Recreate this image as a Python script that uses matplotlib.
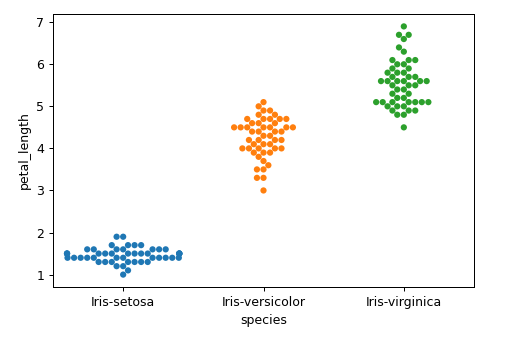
import matplotlib
matplotlib.use("Agg")
import matplotlib.pyplot as plt
import pandas as pd
import seaborn as sns

species = ["Iris-setosa", "Iris-versicolor", "Iris-virginica"]

setosa = [1.4, 1.4, 1.3, 1.5, 1.4, 1.7, 1.4, 1.5, 1.4, 1.5,
          1.5, 1.6, 1.4, 1.1, 1.2, 1.5, 1.3, 1.4, 1.7, 1.5,
          1.7, 1.5, 1.0, 1.7, 1.9, 1.6, 1.6, 1.5, 1.4, 1.6,
          1.6, 1.5, 1.5, 1.4, 1.5, 1.2, 1.3, 1.5, 1.3, 1.5,
          1.3, 1.3, 1.3, 1.6, 1.9, 1.4, 1.6, 1.4, 1.5, 1.4]
versicolor = [4.7, 4.5, 4.9, 4.0, 4.6, 4.5, 4.7, 3.3, 4.6, 3.9,
              3.5, 4.2, 4.0, 4.7, 3.6, 4.4, 4.5, 4.1, 4.5, 3.9,
              4.8, 4.0, 4.9, 4.7, 4.3, 4.4, 4.8, 5.0, 4.5, 3.5,
              3.8, 3.7, 3.9, 5.1, 4.5, 4.5, 4.7, 4.4, 4.1, 4.0,
              4.4, 4.6, 4.0, 3.3, 4.2, 4.2, 4.2, 4.3, 3.0, 4.1]
virginica = [6.0, 5.1, 5.9, 5.6, 5.8, 6.6, 4.5, 6.3, 5.8, 6.1,
             5.1, 5.3, 5.5, 5.0, 5.1, 5.3, 5.5, 6.7, 6.9, 5.0,
             5.7, 4.9, 6.7, 4.9, 5.7, 6.0, 4.8, 4.9, 5.6, 5.8,
             6.1, 6.4, 5.6, 5.1, 5.6, 6.1, 5.6, 5.5, 4.8, 5.4,
             5.6, 5.1, 5.1, 5.9, 5.7, 5.2, 5.0, 5.2, 5.4, 5.1]

df = pd.DataFrame({
    "species": [species[0]] * len(setosa) + [species[1]] * len(versicolor) + [species[2]] * len(virginica),
    "petal_length": setosa + versicolor + virginica,
})

dpi = 90
fig = plt.figure(figsize=(532 / dpi, 343 / dpi), dpi=dpi)
ax = fig.add_axes([53 / 532, 56 / 343, 421 / 532, 273 / 343])
sns.swarmplot(x="species", y="petal_length", data=df, hue="species", palette="tab10", legend=False, ax=ax, size=5)

fig.savefig("out.png", dpi=dpi)
